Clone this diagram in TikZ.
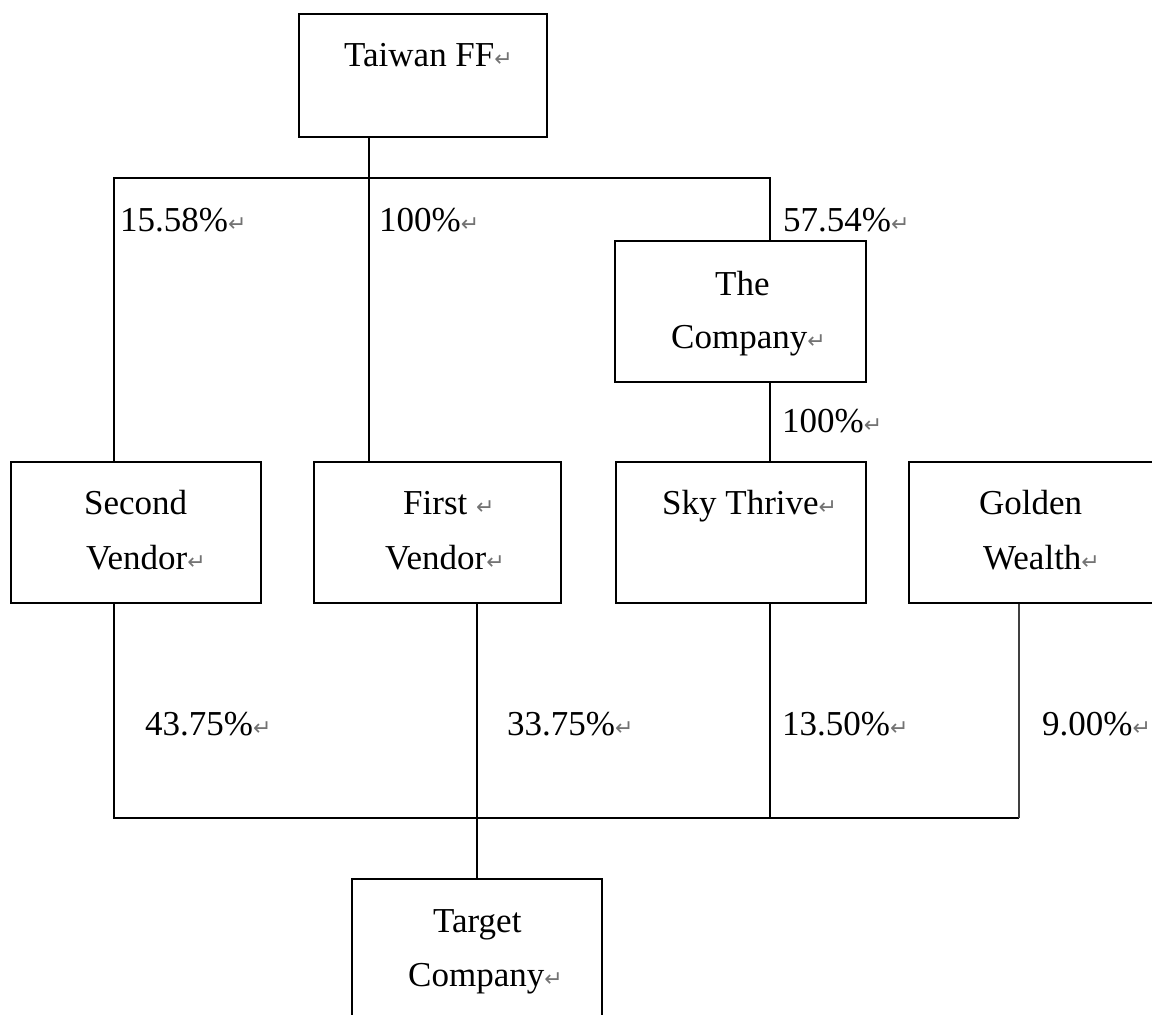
\documentclass[tikz,border=0pt]{standalone}
\usepackage{fontspec}
\setmainfont{Liberation Serif}
\newfontfamily\retfont{DejaVu Sans}
\definecolor{retgray}{gray}{0.45}
\newcommand\retmark{{\retfont\fontsize{22}{22}\selectfont\textcolor{retgray}{↵}}}
\begin{document}
\begin{tikzpicture}[x=1pt,y=-1pt,
  box/.style={draw, line width=1.5pt, inner sep=0pt},
  conn/.style={line width=1.5pt},
  lbl/.style={inner sep=0pt, anchor=base west, font=\fontsize{35}{42}\selectfont}]
\useasboundingbox (0,0) rectangle (1152,1015);
\clip (0,0) rectangle (1152,1015);
% boxes
\node[box, minimum width=248, minimum height=123] (tw) at (423,75.5) {};
\node[box, minimum width=251, minimum height=141] (co) at (740.5,311.5) {};
\node[box, minimum width=250, minimum height=141] (sv) at (136,532.5) {};
\node[box, minimum width=247, minimum height=141] (fv) at (437.5,532.5) {};
\node[box, minimum width=250, minimum height=141] (st) at (741,532.5) {};
\node[box, minimum width=251, minimum height=141] (gw) at (1034.5,532.5) {};
\node[box, minimum width=250, minimum height=142] (tc) at (477,950) {};
% box texts
\node[lbl] (twt) at (344,66) {Taiwan FF\retmark};
\node[lbl] (cot1) at (715,295) {The};
\node[lbl] (cot2) at (671,348) {Company\retmark};
\node[lbl] (svt1) at (84,514) {Second};
\node[lbl] (svt2) at (86,569) {Vendor\retmark};
\node[lbl] (fvt1) at (403,514) {First \retmark};
\node[lbl] (fvt2) at (385,569) {Vendor\retmark};
\node[lbl] (stt) at (662,514) {Sky Thrive\retmark};
\node[lbl] (gwt1) at (979,514) {Golden};
\node[lbl] (gwt2) at (983,569) {Wealth\retmark};
\node[lbl] (tct1) at (433,932) {Target};
\node[lbl] (tct2) at (408,986) {Company\retmark};
% junction coordinates
\coordinate (xa) at (369,178);
\coordinate (xl) at (114,178);
\coordinate (xr) at (770,178);
\coordinate (bl) at (114,818);
\coordinate (bm) at (477,818);
\coordinate (bs) at (770,818);
\coordinate (bg) at (1019,818);
% connectors
\draw[conn] (tw.south -| xa) -- (fv.north -| xa);
\draw[conn] (sv.north -| xl) -- (xl) -- (xr) -- (co.north -| xr);
\draw[conn] (co.south -| xr) -- (st.north -| xr);
\draw[conn] (sv.south -| bl) -- (bl) -- (bg);
\draw[conn, black!75] (gw.south -| bg) -- (bg);
\draw[conn] (fv.south -| bm) -- (tc.north);
\draw[conn] (st.south -| bs) -- (bs);
% percentage labels
\node[lbl] (p1) at (120,231) {15.58\%\retmark};
\node[lbl] (p2) at (379,231) {100\%\retmark};
\node[lbl] (p3) at (783,231) {57.54\%\retmark};
\node[lbl] (p4) at (782,432) {100\%\retmark};
\node[lbl] (p5) at (145,735) {43.75\%\retmark};
\node[lbl] (p6) at (507,735) {33.75\%\retmark};
\node[lbl] (p7) at (782,735) {13.50\%\retmark};
\node[lbl] (p8) at (1042,735) {9.00\%\retmark};
\end{tikzpicture}
\end{document}
